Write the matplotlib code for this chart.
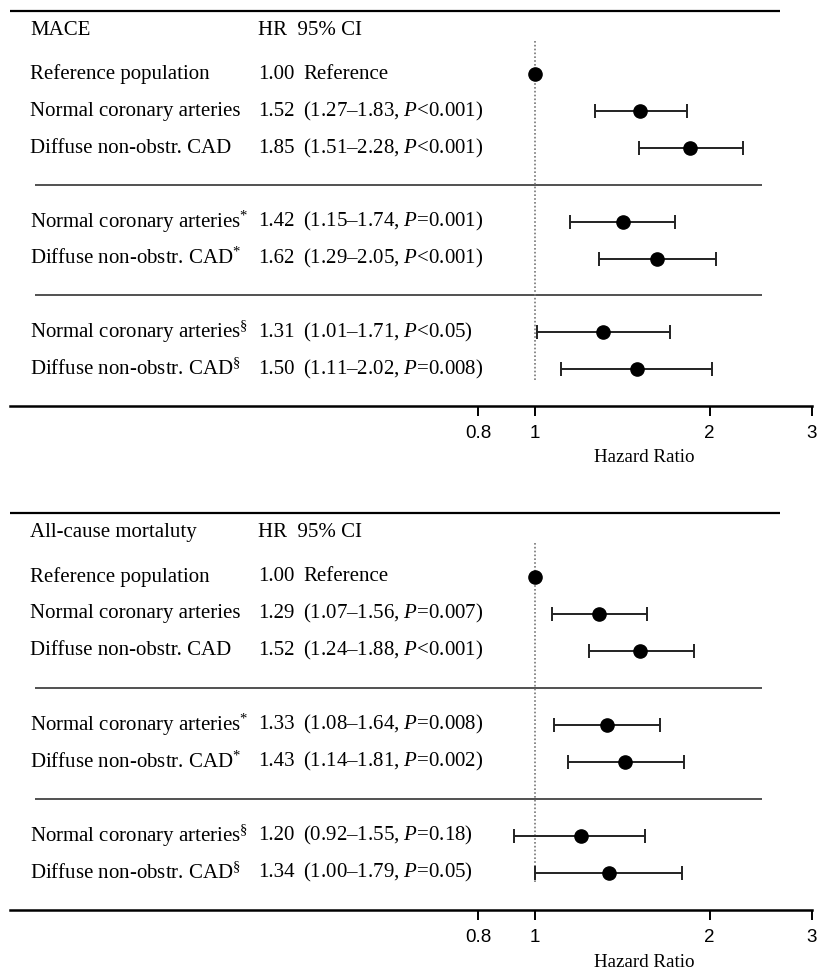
import matplotlib
matplotlib.use("Agg")
import matplotlib.pyplot as plt
from matplotlib.transforms import blended_transform_factory

plt.rcParams["font.family"] = "Liberation Serif"
plt.rcParams["mathtext.fontset"] = "custom"
plt.rcParams["mathtext.rm"] = "Liberation Serif"
plt.rcParams["mathtext.it"] = "Liberation Serif:italic"

W, H = 817, 972
FS = 15

row_labels = [
    "Reference population",
    "Normal coronary arteries",
    "Diffuse non-obstr. CAD",
    "Normal coronary arteries$^{*}$",
    "Diffuse non-obstr. CAD$^{*}$",
    "Normal coronary arteries$^{§}$",
    "Diffuse non-obstr. CAD$^{§}$",
]

mace_hr = [1.00, 1.52, 1.85, 1.42, 1.62, 1.31, 1.50]
mace_lo = [None, 1.27, 1.51, 1.15, 1.29, 1.01, 1.11]
mace_hi = [None, 1.83, 2.28, 1.74, 2.05, 1.71, 2.02]
mace_p = [None, "<0.001", "<0.001", "=0.001", "<0.001", "<0.05", "=0.008"]

mort_hr = [1.00, 1.29, 1.52, 1.33, 1.43, 1.20, 1.34]
mort_lo = [None, 1.07, 1.24, 1.08, 1.14, 0.92, 1.00]
mort_hi = [None, 1.56, 1.88, 1.64, 1.81, 1.55, 1.79]
mort_p = [None, "=0.007", "<0.001", "=0.008", "=0.002", "=0.18", "=0.05"]

tick_vals = [0.8, 1, 2, 3]
tick_labels = ["0.8", "1", "2", "3"]

# vertical slots of the rows (gaps at 3 and 6 hold the separator lines)
rows = [0, 1, 2, 4, 5, 7, 8]


def draw_panel(fig, rect, title, hr, lo, hi, pvals):
    ax = fig.add_axes(rect)
    ax.set_xscale("log")
    ax.set_xlim(0.125, 3.0)
    ax.set_ylim(9, -1.75)
    tr = blended_transform_factory(fig.transFigure, ax.transData)

    ax.hlines(-1.73, 10 / W, 780 / W, transform=tr, color="black", lw=1.6, clip_on=False)
    for y in (3, 6):
        ax.hlines(y, 35 / W, 762 / W, transform=tr, color="#333333", lw=1.2, clip_on=False)
    ax.vlines(1, -0.92, 8.3, color="#777777", lw=1.2, linestyles=(0, (1, 1.3)))

    ax.text(30 / W, -1.2, title, transform=tr, fontsize=FS, va="center")
    ax.text(258 / W, -1.2, "HR  95% CI", transform=tr, fontsize=FS, va="center")

    for i, y in enumerate(rows):
        ax.text(30 / W, y, row_labels[i], transform=tr, fontsize=FS, va="center")
        ax.text(258 / W, y, f"{hr[i]:.2f}", transform=tr, fontsize=FS, va="center")
        if lo[i] is None:
            ax.text(303 / W, y, "Reference", transform=tr, fontsize=FS, va="center")
            ax.plot(hr[i], y, "o", color="black", ms=9.5)
        else:
            ci = f"({lo[i]:.2f}\u2013{hi[i]:.2f}, $P${pvals[i]})"
            ax.text(303 / W, y, ci, transform=tr, fontsize=FS, va="center")
            ax.errorbar(hr[i], y, xerr=[[hr[i] - lo[i]], [hi[i] - hr[i]]],
                        fmt="o", color="black", ecolor="#222222", ms=9.5,
                        elinewidth=1.4, capsize=5, capthick=1.4)

    for s in ("top", "left", "right"):
        ax.spines[s].set_visible(False)
    ax.spines["bottom"].set_linewidth(1.8)
    ax.set_yticks([])
    ax.minorticks_off()
    ax.set_xticks(tick_vals)
    ax.set_xticklabels(tick_labels, fontfamily="Liberation Sans", fontsize=13.5)
    ax.tick_params(axis="x", length=7, width=1.4, pad=7)
    return ax


fig = plt.figure(figsize=(W / 100, H / 100), dpi=100)

draw_panel(fig, [10 / W, 1 - 406 / H, 802 / W, 396 / H], "MACE",
           mace_hr, mace_lo, mace_hi, mace_p)
fig.text(644 / W, 1 - 457 / H, "Hazard Ratio", fontsize=13.7, ha="center", va="center")

draw_panel(fig, [10 / W, 1 - 910 / H, 802 / W, 398 / H], "All-cause mortaluty",
           mort_hr, mort_lo, mort_hi, mort_p)
fig.text(644 / W, 1 - 962 / H, "Hazard Ratio", fontsize=13.7, ha="center", va="center")

fig.savefig("out.png", dpi=100)
